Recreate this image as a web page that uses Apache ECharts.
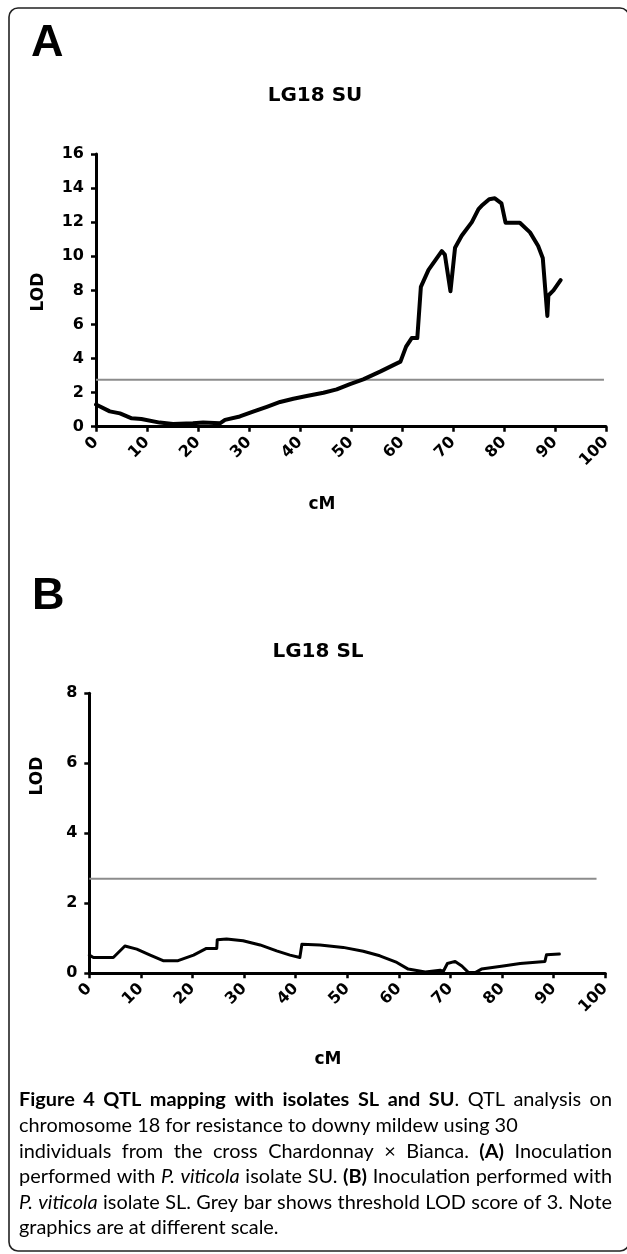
<!DOCTYPE html>
<html>
<head>
<meta charset="utf-8">
<script src="https://cdn.jsdelivr.net/npm/echarts@6/dist/echarts.min.js"></script>
<style>
html,body{margin:0;padding:0;background:#fff;}
#chart{width:627px;height:1254px;}
</style>
</head>
<body>
<div id="chart"></div>
<script>
// ---- Data ----
const xTicks = [0,10,20,30,40,50,60,70,80,90,100];
const suTicksY = [0,2,4,6,8,10,12,14,16];
const slTicksY = [0,2,4,6,8];

const suCM  = [0, 2.7, 4.7, 7, 8.9, 12.5, 15.1, 19, 21, 24.3, 25.3, 28.2, 30.8, 33.5, 36.1, 38.7, 41.3, 41.6, 44.6, 47.2, 49.8, 52.4, 55.7, 59.7, 60.8, 61.9, 63, 63.7, 65.2, 67.8, 68.4, 69.5, 70.4, 71.7, 73.7, 75, 75.6, 77.1, 78.2, 79.5, 80.3, 83.1, 85.1, 86.7, 87.6, 88.5, 88.7, 89.7, 91.1];
const suLOD = [1.3, 0.9, 0.78, 0.49, 0.45, 0.24, 0.16, 0.2, 0.24, 0.2, 0.4, 0.6, 0.88, 1.17, 1.45, 1.64, 1.8, 1.9, 1.99, 2.19, 2.5, 2.78, 3.23, 3.82, 4.7, 5.2, 5.2, 8.2, 9.2, 10.3, 10.1, 7.95, 10.5, 11.2, 12.0, 12.77, 12.96, 13.35, 13.4, 13.1, 11.97, 11.97, 11.4, 10.6, 9.9, 6.5, 7.7, 8.0, 8.6];

const slCM  = [0, 0.8, 4.65, 6.9, 9.2, 11.8, 14.3, 17.2, 20.2, 22.7, 24.7, 24.8, 26.6, 29.8, 33.1, 36.3, 38.9, 40.8, 41.2, 44.7, 49.2, 53.1, 56.3, 59.6, 61.8, 65.1, 68, 68.6, 69.4, 70.9, 72.2, 73.5, 74.8, 76, 80.2, 83.5, 88.3, 88.6, 91.1];
const slLOD = [0.52, 0.45, 0.45, 0.78, 0.69, 0.52, 0.36, 0.36, 0.52, 0.71, 0.71, 0.96, 0.98, 0.93, 0.81, 0.64, 0.52, 0.45, 0.83, 0.81, 0.74, 0.63, 0.5, 0.31, 0.12, 0.04, 0.09, 0.05, 0.28, 0.34, 0.21, 0.02, 0.02, 0.12, 0.21, 0.28, 0.34, 0.53, 0.55];

const suThresholdX = [0, 99.6];
const suThresholdY = [2.75, 2.75];
const slThresholdX = [0, 98.3];
const slThresholdY = [2.7, 2.7];

const panelLetters = ['A', 'B'];
const panelTitles = ['LG18 SU', 'LG18 SL'];
const yAxisTitle = 'LOD';
const xAxisTitle = 'cM';

const captionLines = [
  [['b','Figure 4 QTL mapping with isolates SL and SU'],['n','. QTL analysis on']],
  [['n','chromosome 18 for resistance to downy mildew using 30']],
  [['n','individuals from the cross Chardonnay \u00d7 Bianca. '],['b','(A)'],['n',' Inoculation']],
  [['n','performed with '],['i','P. viticola'],['n',' isolate SU. '],['b','(B)'],['n',' Inoculation performed with']],
  [['i','P. viticola'],['n',' isolate SL. Grey bar shows threshold LOD score of 3. Note']],
  [['n','graphics are at different scale.']]
];
const captionJustify = [true, false, true, true, true, false];

// ---- Build ----
const zip = (xs, ys) => xs.map((x, i) => [x, ys[i]]);
const FONT = 'DejaVu Sans, Verdana, sans-serif';
const CAPFONT = 'Lato';

function xAxisCfg(idx) {
  return {
    type: 'value', gridIndex: idx, min: 0, max: 100, interval: 10,
    axisLine: {show: true, onZero: false, lineStyle: {color: '#000', width: 3}},
    axisTick: {show: true, inside: false, length: 5, lineStyle: {color: '#000', width: 2.5}},
    axisLabel: {rotate: 45, margin: 13, color: '#000', fontFamily: FONT, fontWeight: 'bold', fontSize: 16,
      formatter: v => xTicks.includes(v) ? String(v) : ''},
    splitLine: {show: false}
  };
}
function yAxisCfg(idx, max, ticks) {
  return {
    type: 'value', gridIndex: idx, min: 0, max: max, interval: 2,
    axisLine: {show: true, lineStyle: {color: '#000', width: 3}},
    axisTick: {show: true, inside: false, length: 5, lineStyle: {color: '#000', width: 2.5}},
    axisLabel: {margin: 12, color: '#000', fontFamily: FONT, fontWeight: 'bold', fontSize: 16,
      formatter: v => ticks.includes(v) ? String(v) : ''},
    splitLine: {show: false}
  };
}

// caption: size fitted so line 2 spans ~500px; lines 1,3,4,5 justified to the right margin
const measureCtx = document.createElement('canvas').getContext('2d');
function fontFor(s, size) {
  return (s === 'i' ? 'italic ' : '') + (s === 'b' ? 'bold ' : '') + size + 'px ' + CAPFONT;
}
function pieceWidth(s, t, size) { measureCtx.font = fontFor(s, size); return measureCtx.measureText(t).width; }
function lineWidth(line, size) { return line.reduce((a, [s, t]) => a + pieceWidth(s, t, size), 0); }

function captionGraphics() {
  let size = 17 * 500 / lineWidth(captionLines[1], 17);
  const maxW = Math.max(...captionLines.map(l => lineWidth(l, size)));
  if (maxW > 596) size = size * 596 / maxW;
  size = Math.round(size * 10) / 10;
  const rich = {
    n: {fontFamily: CAPFONT, fontSize: size, color: '#1a1a1a'},
    b: {fontFamily: CAPFONT, fontSize: size, fontWeight: 'bold', color: '#1a1a1a'},
    i: {fontFamily: CAPFONT, fontSize: size, fontStyle: 'italic', color: '#1a1a1a'}
  };
  const left = 19, right = 612, top = 1100, step = 25.6;
  const els = [];
  captionLines.forEach((line, li) => {
    const words = [[]];
    line.forEach(([s, t]) => {
      t.split(' ').forEach((tok, k) => {
        if (k > 0) words.push([]);
        if (tok.length) words[words.length - 1].push([s, tok]);
      });
    });
    const ws = words.filter(w => w.length);
    const widths = ws.map(w => lineWidth(w, size));
    const total = widths.reduce((a, b) => a + b, 0);
    const gap = captionJustify[li] ? (right - left - total) / (ws.length - 1) : pieceWidth('n', ' ', size);
    let x = left;
    ws.forEach((w, wi) => {
      els.push({
        type: 'text', x: x, y: top + li * step,
        style: {
          text: w.map(([s, t]) => '{' + s + '|' + t + '}').join(''),
          rich: rich, verticalAlign: 'middle', align: 'left'
        }
      });
      x += widths[wi] + gap;
    });
  });
  return els;
}

const bold = (size) => ({fontFamily: FONT, fontWeight: 'bold', fontSize: size, fill: '#000'});
const letterStyle = {fontFamily: 'Liberation Sans, Arial, sans-serif', fontWeight: 'bold', fontSize: 45, fill: '#000'};

const option = {
  animation: false,
  backgroundColor: '#fff',
  grid: [
    {left: 96, top: 154, width: 510, height: 272.7},
    {left: 89.3, top: 693.3, width: 516, height: 280}
  ],
  xAxis: [xAxisCfg(0), xAxisCfg(1)],
  yAxis: [yAxisCfg(0, 16, suTicksY), yAxisCfg(1, 8, slTicksY)],
  series: [
    {type: 'line', xAxisIndex: 0, yAxisIndex: 0, data: zip(suThresholdX, suThresholdY), symbol: 'none',
      lineStyle: {color: '#8c8c8c', width: 2}, z: 1},
    {type: 'line', xAxisIndex: 0, yAxisIndex: 0, data: zip(suCM, suLOD), symbol: 'none',
      lineStyle: {color: '#000', width: 4, join: 'round', cap: 'round'}, z: 2},
    {type: 'line', xAxisIndex: 1, yAxisIndex: 1, data: zip(slThresholdX, slThresholdY), symbol: 'none',
      lineStyle: {color: '#8c8c8c', width: 2}, z: 1},
    {type: 'line', xAxisIndex: 1, yAxisIndex: 1, data: zip(slCM, slLOD), symbol: 'none',
      lineStyle: {color: '#000', width: 3, join: 'round', cap: 'round'}, z: 2}
  ],
  graphic: [
    {type: 'rect', shape: {x: 9, y: 8, width: 620, height: 1243, r: 9},
      style: {fill: 'none', stroke: '#222', lineWidth: 1.6}, z: -1},
    {type: 'text', x: 31, y: 44, style: Object.assign({text: panelLetters[0], verticalAlign: 'middle', align: 'left'}, letterStyle)},
    {type: 'text', x: 32, y: 597, style: Object.assign({text: panelLetters[1], verticalAlign: 'middle', align: 'left'}, letterStyle)},
    {type: 'text', x: 315, y: 96, style: Object.assign({text: panelTitles[0], align: 'center', verticalAlign: 'middle'}, bold(20))},
    {type: 'text', x: 318, y: 652, style: Object.assign({text: panelTitles[1], align: 'center', verticalAlign: 'middle'}, bold(20))},
    {type: 'text', x: 39, y: 292, rotation: Math.PI / 2, style: Object.assign({text: yAxisTitle, align: 'center', verticalAlign: 'middle'}, bold(17))},
    {type: 'text', x: 38, y: 776, rotation: Math.PI / 2, style: Object.assign({text: yAxisTitle, align: 'center', verticalAlign: 'middle'}, bold(17))},
    {type: 'text', x: 322, y: 505, style: Object.assign({text: xAxisTitle, align: 'center', verticalAlign: 'middle'}, bold(17))},
    {type: 'text', x: 328, y: 1060, style: Object.assign({text: xAxisTitle, align: 'center', verticalAlign: 'middle'}, bold(17))}
  ].concat(captionGraphics())
};

const chart = echarts.init(document.getElementById('chart'), null, {renderer: 'canvas'});
chart.setOption(option);
</script>
</body>
</html>
